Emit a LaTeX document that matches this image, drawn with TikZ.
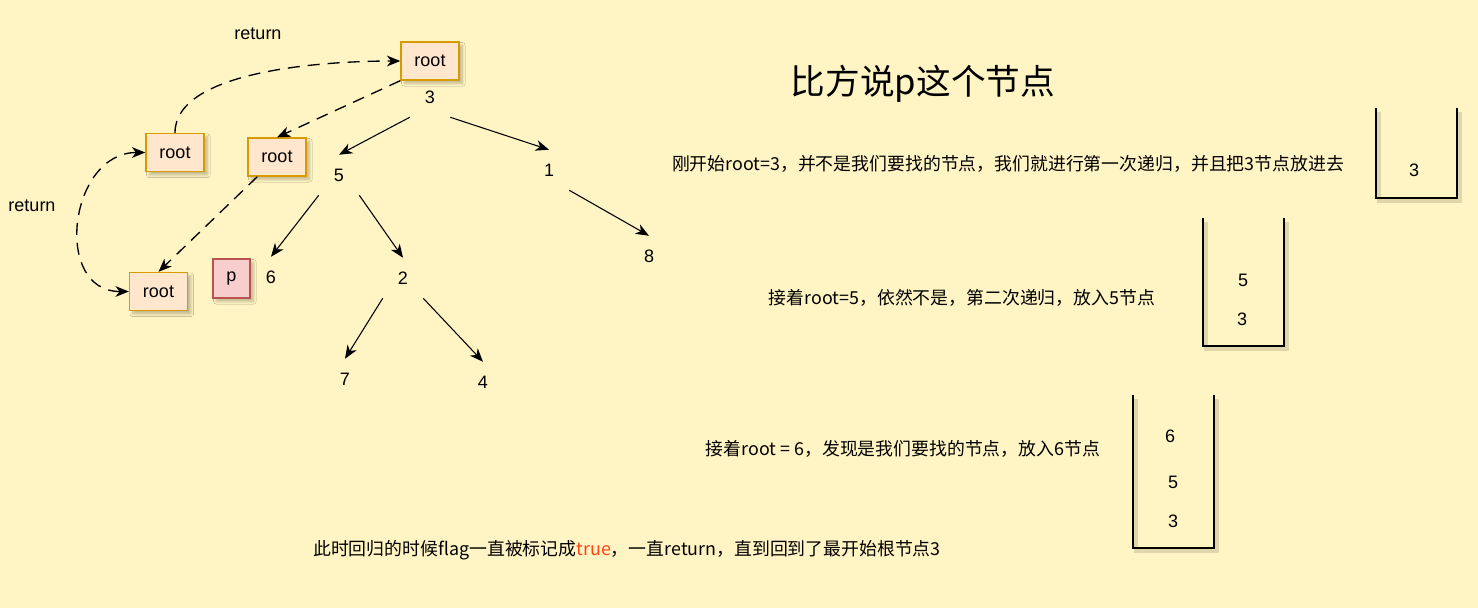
\documentclass[tikz,border=0pt]{standalone}
\usepackage{fontspec}
\setmainfont{Liberation Sans}
\newfontfamily\cjk{Noto Sans CJK SC}
\usetikzlibrary{shadows.blur,arrows.meta}
\definecolor{bg}{HTML}{FFF4C3}
\definecolor{rootfill}{HTML}{FFE6CC}
\definecolor{rootdraw}{HTML}{D79B00}
\definecolor{pfill}{HTML}{F8CECC}
\definecolor{pdraw}{HTML}{B85450}
\definecolor{truered}{HTML}{FF4416}
\begin{document}
\begin{tikzpicture}[>={Stealth[length=10pt,width=8pt,inset=3pt]},x=0.75pt,y=-0.75pt,font=\fontsize{13.5}{15}\selectfont]
	\tikzset{boxshade/.style={blur shadow={shadow blur steps=6,shadow xshift=2.5pt,shadow yshift=-2.5pt,shadow opacity=25}},
		rootbox/.style={draw=rootdraw,fill=rootfill,line width=1pt,minimum width=43.5pt,minimum height=28.5pt,boxshade},
		pbox/.style={draw=pdraw,fill=pfill,line width=1pt,minimum width=27.75pt,minimum height=29.25pt,boxshade},
		num/.style={minimum size=30pt,inner sep=0pt},
		say/.style={font=\cjk\fontsize{13.4}{16}\selectfont},
		back/.style={dash pattern=on 9pt off 6pt,line width=1pt}
	}
	\fill[bg] (0,0) rectangle (1478,608);
	\useasboundingbox (0,0) rectangle (1478,608);
	% the tree
	\node[num] (n3) at (430,97) {3};
	\node[num] (n5) at (339,175) {5};
	\node[num] (n1) at (549,170) {1};
	\node[num] (n6) at (271,277) {6};
	\node[num] (n2) at (403,278) {2};
	\node[num] (n8) at (649,256) {8};
	\node[num] (n7) at (345,379) {7};
	\node[num] (n4) at (483,382) {4};
	\draw[->,thick] (n3.south west)--(n5.north);
	\draw[->,thick] (n3.south east)--(n1.north);
	\draw[->,thick] (n5.south west)--(n6.north);
	\draw[->,thick] (n5.south east)--(n2.north);
	\draw[->,thick] (n1.south east)--(n8.north);
	\draw[->,thick] (n2.south west)--(n7.north);
	\draw[->,thick] (n2.south east)--(n4.north);
	% recursion boxes
	\node[rootbox] (r0) at (430,61) {root};
	\node[rootbox] (r1) at (175,152.5) {root};
	\node[rootbox] (r2) at (277,157) {root};
	\node[rootbox] (r3) at (158.5,291.5) {root};
	\node[pbox] (p) at (231.5,278.5) {p};
	\draw[back,->] (r0.south west)--(r2.north);
	\draw[back,->] (r2.-135)--(r3.north);
	\draw[back,->] (r1.north) to[out=90,in=180,looseness=0.7] (r0.west);
	\draw[back,<->] (r3.west) to[out=180,in=180,looseness=1.4] (r1.west);
	\node (ret1) at (258,34) {return};
	\node (ret2) at (32,206) {return};
	% stacks
	\foreach \l/\r/\t/\b in {1376/1457/108/198,1203/1284/218/346,1133/1214/395/548}{
		\draw[black,opacity=.12,line width=3pt] (\l+3,\t+4) |- (\r+3,\b+3) -- (\r+3,\t+4);
		\draw[thick] (\l,\t) |- (\r,\b) -- (\r,\t);}
	\node (s1a) at (1414,170) {3};
	\node (s2a) at (1243,280) {5};
	\node (s2b) at (1242,319) {3};
	\node (s3a) at (1170,436) {6};
	\node (s3b) at (1173,482) {5};
	\node (s3c) at (1173,521) {3};
	% texts
	\node[font=\cjk\fontsize{26}{28}\selectfont] (title) at (923,84) {比方说p这个节点};
	\node[say] (t1) at (1008,164) {刚开始root=3，并不是我们要找的节点，我们就进行第一次递归，并且把3节点放进去};
	\node[say] (t2) at (962,298) {接着root=5，依然不是，第二次递归，放入5节点};
	\node[say] (t3) at (903,449) {接着root = 6，发现是我们要找的节点，放入6节点};
	\node[say] (t4) at (627,550) {此时回归的时候flag一直被标记成\textcolor{truered}{true}，一直return，直到回到了最开始根节点3};
\end{tikzpicture}
\end{document}
